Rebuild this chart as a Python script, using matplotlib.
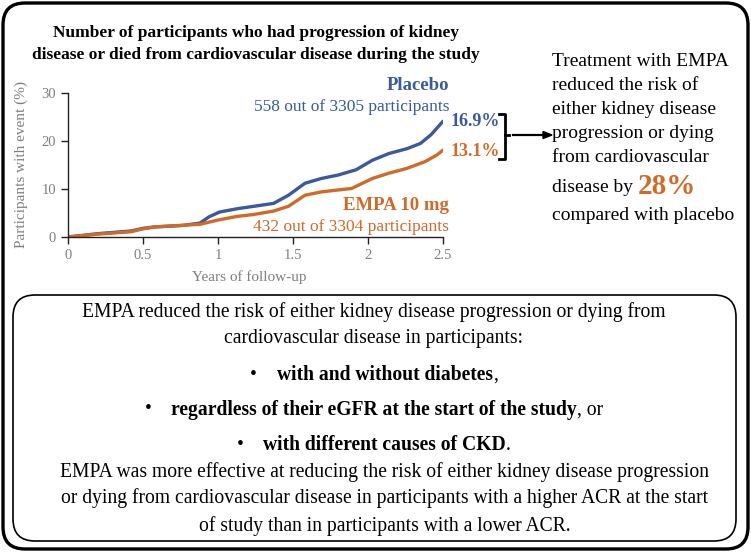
import numpy as np
import matplotlib.pyplot as plt
import matplotlib.transforms as mtransforms
from matplotlib.patches import FancyBboxPatch
from matplotlib.lines import Line2D

plt.rcParams['font.family'] = ['Liberation Serif', 'DejaVu Serif']

# data (years, % with event)
placebo_years = [0, 0.2, 0.42, 0.5, 0.58, 0.76, 0.88, 0.94, 1.01, 1.13, 1.24, 1.37,
                 1.47, 1.58, 1.69, 1.80, 1.92, 2.03, 2.14, 2.26, 2.35, 2.42, 2.5]
placebo_pct = [0, 0.7, 1.25, 1.8, 2.1, 2.4, 2.9, 4.2, 5.2, 5.9, 6.4, 7.0,
               8.7, 11.2, 12.2, 12.9, 14.0, 16.0, 17.4, 18.4, 19.5, 21.3, 24.1]
empa_years = [0, 0.2, 0.42, 0.5, 0.58, 0.88, 1.01, 1.13, 1.24, 1.37, 1.47, 1.58,
              1.69, 1.80, 1.89, 2.03, 2.14, 2.26, 2.38, 2.46, 2.5]
empa_pct = [0, 0.6, 1.1, 1.7, 2.1, 2.65, 3.6, 4.3, 4.7, 5.4, 6.4, 8.7,
            9.4, 9.8, 10.1, 12.2, 13.3, 14.3, 15.7, 17.1, 18.1]
x_ticks = [0, 0.5, 1, 1.5, 2, 2.5]
x_tick_labels = ['0', '0.5', '1', '1.5', '2', '2.5']
y_ticks = [0, 10, 20, 30]

blue = '#3a5a9b'
orange = '#cf6a28'
grey = '#7f7f7f'

W, H = 751, 553
fig = plt.figure(figsize=(W / 100, H / 100), dpi=100)
# pixel coordinates, origin top-left
P = mtransforms.Affine2D().scale(1 / 100, -1 / 100).translate(0, H / 100) + fig.dpi_scale_trans

# outer frame and lower box
fig.patches.append(FancyBboxPatch((3, 3), 745, 546, boxstyle='round,pad=0,rounding_size=22',
                                  fc='none', ec='black', lw=2.4, transform=P, figure=fig))
fig.patches.append(FancyBboxPatch((13, 295), 723, 246, boxstyle='round,pad=0,rounding_size=22',
                                  fc='none', ec='black', lw=1.2, transform=P, figure=fig))

ax = fig.add_axes([68 / W, (H - 237) / H, 375 / W, 144 / H])
ax.plot(placebo_years, placebo_pct, color=blue, lw=2.4, solid_capstyle='round')
ax.plot(empa_years, empa_pct, color=orange, lw=2.4, solid_capstyle='round')
ax.set_xlim(0, 2.5)
ax.set_ylim(0, 30)
ax.set_xticks(x_ticks, x_tick_labels)
ax.set_yticks(y_ticks)
for s in ['top', 'right']:
    ax.spines[s].set_visible(False)
for s in ['left', 'bottom']:
    ax.spines[s].set_color('#222222')
    ax.spines[s].set_linewidth(1.0)
ax.tick_params(colors='#222222', labelcolor=grey, labelsize=10.5, length=5, width=1.0)
ax.patch.set_alpha(0)


def txt(x, y, s, **kw):
    kw.setdefault('va', 'center')
    return fig.text(x, y, s, transform=P, **kw)


txt(256, 33, 'Number of participants who had progression of kidney', ha='center',
    fontsize=12.5, fontweight='bold')
txt(256, 55, 'disease or died from cardiovascular disease during the study', ha='center',
    fontsize=12.5, fontweight='bold')
txt(21, 165, 'Participants with event (%)', ha='center', rotation=90, fontsize=11, color=grey)
txt(249, 277, 'Years of follow-up', ha='center', fontsize=11, color=grey)

txt(449, 85, 'Placebo', ha='right', fontsize=13.5, fontweight='bold', color=blue)
txt(449, 107, '558 out of 3305 participants', ha='right', fontsize=12.5, color=blue)
txt(451, 122, '16.9%', ha='left', fontsize=13, fontweight='bold', color=blue)
txt(451, 151, '13.1%', ha='left', fontsize=13, fontweight='bold', color=orange)
txt(449, 205, 'EMPA 10 mg', ha='right', fontsize=13.5, fontweight='bold', color=orange)
txt(449, 227, '432 out of 3304 participants', ha='right', fontsize=12.5, color=orange)

# bracket and arrow
for xs, ys in [([499, 505, 505, 499], [114, 114, 159, 159]), ([505, 509], [135, 135])]:
    fig.add_artist(Line2D(xs, ys, color='black', lw=2.0, transform=P))
fig.add_artist(Line2D([513, 544], [135, 135], color='black', lw=1.6, transform=P))
fig.patches.append(plt.Polygon([[543, 131.5], [552, 135], [543, 138.5]], closed=True,
                               color='black', transform=P, figure=fig))

right_lines = ['Treatment with EMPA', 'reduced the risk of', 'either kidney disease',
               'progression or dying', 'from cardiovascular']
right_y = [62, 86, 110, 134, 158]
for s, y in zip(right_lines, right_y):
    txt(552, y, s, ha='left', fontsize=14)
t_dis = txt(552, 188, 'disease by ', ha='left', fontsize=14)
t_28 = fig.text(0, 0, '28%', fontsize=21, fontweight='bold', color=orange, va='baseline',
                transform=mtransforms.IdentityTransform())
txt(552, 215, 'compared with placebo', ha='left', fontsize=14)

box_font = 14.1
cx = 374
cx2 = 385
txt(cx, 312, 'EMPA reduced the risk of either kidney disease progression or dying from',
    ha='center', fontsize=box_font)
txt(cx, 338, 'cardiovascular disease in participants:', ha='center', fontsize=box_font)
txt(cx2, 472, 'EMPA was more effective at reducing the risk of either kidney disease progression',
    ha='center', fontsize=box_font)
txt(cx2, 498, 'or dying from cardiovascular disease in participants with a higher ACR at the start',
    ha='center', fontsize=box_font)
txt(cx2, 526, 'of study than in participants with a lower ACR.', ha='center', fontsize=box_font)

bullet_lines = [
    (375, [('•    ', 'normal'), ('with and without diabetes', 'bold'), (',', 'normal')]),
    (410, [('•    ', 'normal'), ('regardless of their eGFR at the start of the study', 'bold'),
           (', or', 'normal')]),
    (445, [('•    ', 'normal'), ('with different causes of CKD', 'bold'), ('.', 'normal')]),
]
pieces = []
for y, parts in bullet_lines:
    arts = [txt(0, y, s, ha='left', fontsize=box_font, fontweight=w) for s, w in parts]
    pieces.append(arts)

fig.canvas.draw()
r = fig.canvas.get_renderer()
for arts in pieces:
    widths = [a.get_window_extent(r).width for a in arts]
    x = cx - sum(widths) / 2
    for a, w in zip(arts, widths):
        a.set_x(x)
        x += w

# large "28%" right after "disease by"
bb = t_dis.get_window_extent(r)
t_28.set_position((bb.x1, bb.y0 + 3))

fig.savefig('out.png', dpi=100)
